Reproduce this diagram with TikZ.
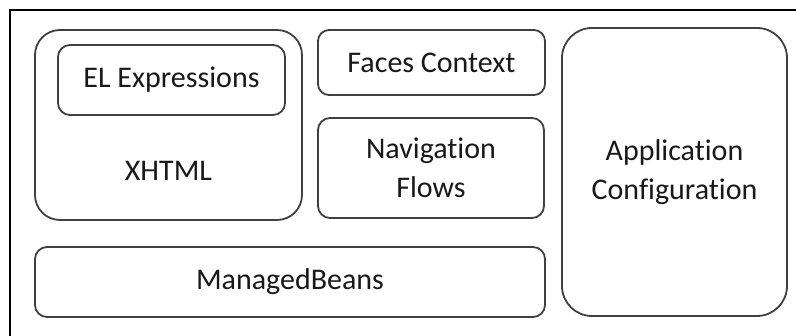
\documentclass[tikz,border=0pt]{standalone}
\usepackage{fontspec}
\setmainfont[Ligatures=NoCommon]{Carlito}
\begin{document}
\begin{tikzpicture}[x=1pt,y=-1pt,
  box/.style={draw=black!75, line width=1.8pt, inner sep=0pt, align=center,
    font=\fontsize{30}{38.5}\selectfont, text=black!90},
  lbl/.style={inner sep=0pt, align=center, font=\fontsize{30}{38.5}\selectfont, text=black!90}]
  \useasboundingbox (0,0) rectangle (796,336);
  % frame (top and left edges)
  \draw[line width=2pt] (10,336) -- (10,10) -- (796,10);
  % view layer
  \node[box, rounded corners=25pt, minimum width=267pt, minimum height=190pt] (xhtml) at (168.5,125) {};
  \node[lbl] (xhtmllbl) at (168.5,171) {XHTML};
  \node[box, rounded corners=12pt, minimum width=227pt, minimum height=70pt] (el) at (171.5,80) {EL Expressions};
  % controller parts
  \node[box, rounded corners=11pt, minimum width=227pt, minimum height=65pt] (faces) at (431.5,62.5) {Faces Context};
  \node[box, rounded corners=12pt, minimum width=226pt, minimum height=100pt] (nav) at (431,168) {Navigation\\Flows};
  % configuration
  \node[box, rounded corners=30pt, minimum width=225pt, minimum height=288pt] (app) at (674.5,172) {Application\\Configuration};
  % model
  \node[box, rounded corners=12pt, minimum width=510pt, minimum height=70pt] (mb) at (290,282) {ManagedBeans};
\end{tikzpicture}
\end{document}
